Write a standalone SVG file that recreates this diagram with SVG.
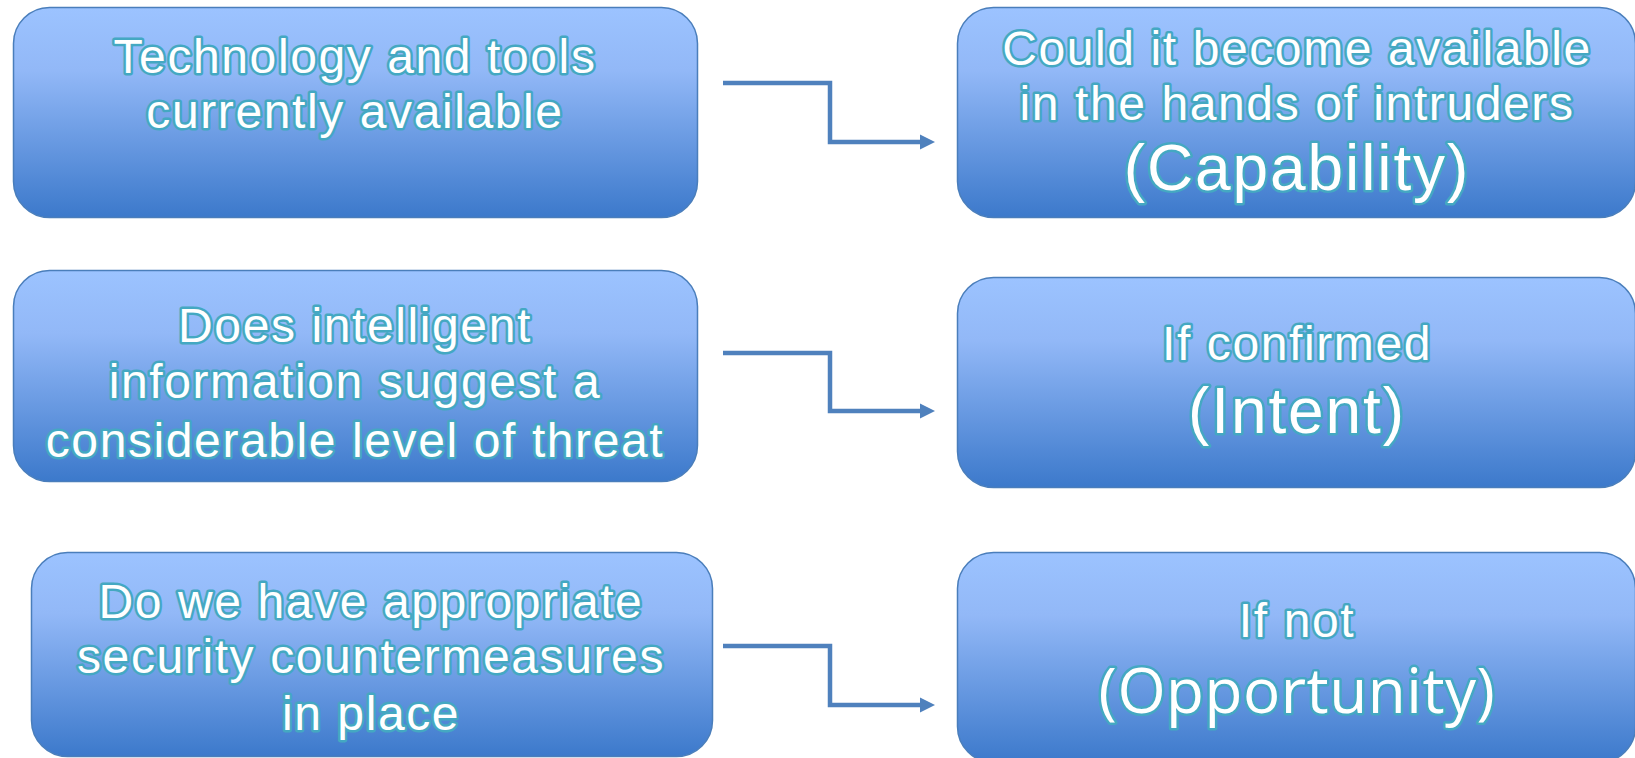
<svg xmlns="http://www.w3.org/2000/svg" width="1635" height="758" viewBox="0 0 1635 758">
  <defs>
    <linearGradient id="boxGrad" x1="0" y1="0" x2="0" y2="1">
      <stop offset="0" stop-color="#9cc3ff"/>
      <stop offset="0.3" stop-color="#92b8f7"/>
      <stop offset="1" stop-color="#3c79cb"/>
    </linearGradient>
  </defs>
  <style>
    .box { fill: url(#boxGrad); stroke: #4a7ebb; stroke-width: 1.5; }
    .t { font-family: "Liberation Sans", Arial, sans-serif; font-size: 48px; letter-spacing: 1.6px; fill: #ffffff; stroke: #44a8c2; stroke-width: 5; paint-order: stroke; stroke-linejoin: round; text-anchor: middle; }
    .big { font-size: 64px; letter-spacing: 1.9px; }
    .opp { font-family: "Open Sans", "Liberation Sans", sans-serif; font-size: 62px; letter-spacing: 0.5px; }
    .conn { fill: none; stroke: #4f81bd; stroke-width: 4.5; stroke-linejoin: miter; }
    .head { fill: #4f81bd; stroke: none; }
  </style>

  <g id="node-tech">
    <rect class="box" x="13.5" y="7.5" width="684" height="210" rx="36" ry="36"/>
    <text class="t" x="355" y="73" letter-spacing="1.9">Technology and tools</text>
    <text class="t" x="355" y="128">currently available</text>
  </g>

  <g id="node-intel">
    <rect class="box" x="13.5" y="270.5" width="684" height="211" rx="36" ry="36"/>
    <text class="t" x="355" y="342">Does intelligent</text>
    <text class="t" x="355" y="398">information suggest a</text>
    <text class="t" x="355" y="457">considerable level of threat</text>
  </g>

  <g id="node-security">
    <rect class="box" x="31.5" y="552.5" width="681" height="204" rx="36" ry="36"/>
    <text class="t" x="371" y="618">Do we have appropriate</text>
    <text class="t" x="371" y="673">security countermeasures</text>
    <text class="t" x="371" y="730">in place</text>
  </g>

  <g id="node-capability">
    <rect class="box" x="957.5" y="7.5" width="678" height="210" rx="36" ry="36"/>
    <text class="t" x="1297" y="65">Could it become available</text>
    <text class="t" x="1297" y="120">in the hands of intruders</text>
    <text class="t big" x="1297" y="190">(Capability)</text>
  </g>

  <g id="node-intent">
    <rect class="box" x="957.5" y="277.5" width="678" height="210" rx="36" ry="36"/>
    <text class="t" x="1297" y="360">If confirmed</text>
    <text class="t big" x="1297" y="433">(Intent)</text>
  </g>

  <g id="node-opportunity">
    <rect class="box" x="957.5" y="552.5" width="678" height="210" rx="36" ry="36"/>
    <text class="t" x="1297" y="637">If not</text>
    <text class="t opp" x="1297" y="713">(Opportunity)</text>
  </g>

  <g id="connectors">
    <path class="conn" d="M723,83 H830 V142 H922"/>
    <path class="head" d="M920,134.5 L935,142 L920,149.5 Z"/>
    <path class="conn" d="M723,353 H830 V411 H922"/>
    <path class="head" d="M920,403.5 L935,411 L920,418.5 Z"/>
    <path class="conn" d="M723,646 H830 V705 H922"/>
    <path class="head" d="M920,697.5 L935,705 L920,712.5 Z"/>
  </g>
</svg>
